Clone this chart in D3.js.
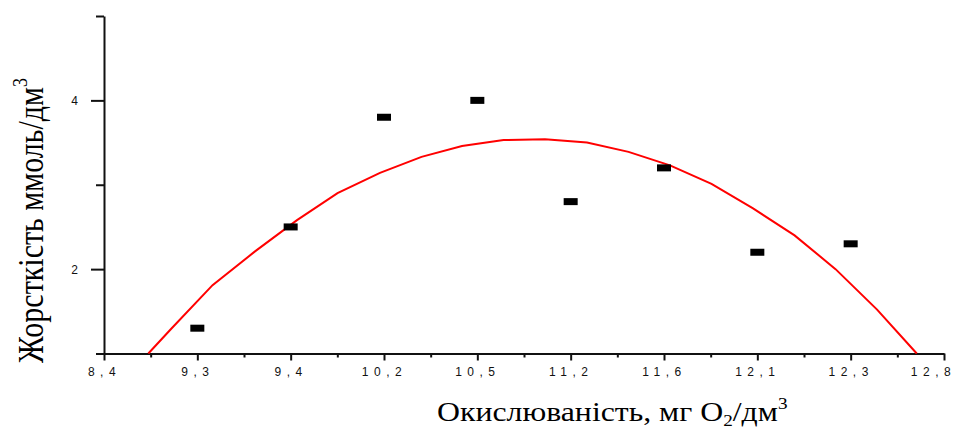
<!DOCTYPE html>
<html>
<head>
<meta charset="utf-8">
<script src="https://cdn.jsdelivr.net/npm/d3@7"></script>
<style>
  body { margin: 0; background: #fff; }
  svg { display: block; }
</style>
</head>
<body>
<svg id="chart" width="964" height="429"></svg>
<script>
// Oxidability categories along the x axis (mg O2/dm3)
const categories = ["8,4", "9,3", "9,4", "10,2", "10,5", "11,2", "11,6", "12,1", "12,3", "12,8"];
// Measured hardness (mmol/dm3) for each sampled oxidability
const pointCategory = ["9,3", "9,4", "10,2", "10,5", "11,2", "11,6", "12,1", "12,3"];
const hardness = [1.3, 2.5, 3.8, 4.0, 2.8, 3.2, 2.2, 2.3];
// Fitted trend line: position in category units and hardness value
const fitPos = [0.475, 0.718, 1.163, 1.618, 2.068, 2.502, 2.957, 3.402, 3.836, 4.281,
                4.725, 5.175, 5.620, 6.064, 6.509, 6.954, 7.399, 7.838, 8.283, 8.708];
const fitValue = [1.0, 1.29, 1.81, 2.21, 2.58, 2.90, 3.14, 3.33, 3.46, 3.53,
                  3.54, 3.50, 3.39, 3.23, 3.01, 2.72, 2.40, 2.00, 1.52, 1.0];
// y axis ticks
const yMajorTicks = [2, 4];
const yMinorTicks = [1, 3, 5];

const svg = d3.select("#chart");
const axisColor = "#111";
const tickFont = "'Liberation Sans', Arial, sans-serif";
const titleFont = "'Liberation Serif', 'Times New Roman', serif";

const x = d3.scaleLinear().domain([0, categories.length - 1]).range([104, 944]);
const y = d3.scaleLinear().domain([1, 5]).range([353.5, 16]);
const lastCat = categories.length - 1;

// ---- x axis ----
const gx = svg.append("g").attr("transform", `translate(0,${y(1)})`);
gx.call(d3.axisBottom(x)
  .tickValues(d3.range(categories.length))
  .tickFormat(i => categories[i])
  .tickSize(7)
  .tickSizeOuter(0));
gx.selectAll(".tick text")
  .attr("y", 22.5).attr("dy", 0)
  .attr("dx", d => d === lastCat ? -11 : 0)
  .attr("fill", "#111")
  .style("font-family", tickFont)
  .style("font-size", "12px")
  .style("letter-spacing", "5.5px");
// minor ticks between categories
gx.append("g").call(d3.axisBottom(x)
  .tickValues(d3.range(0.5, lastCat, 1))
  .tickFormat("")
  .tickSize(4)
  .tickSizeOuter(0))
  .call(g => g.select(".domain").remove())
  .call(g => g.selectAll("text").remove());
gx.selectAll(".domain").attr("stroke", axisColor).attr("stroke-width", 2);
gx.selectAll(".tick line").attr("stroke", axisColor).attr("stroke-width", 2);

// ---- y axis ----
const gy = svg.append("g").attr("transform", `translate(${x(0)},0)`);
gy.call(d3.axisLeft(y)
  .tickValues(yMajorTicks)
  .tickFormat(d3.format("d"))
  .tickSize(13)
  .tickSizeOuter(0));
gy.selectAll(".tick text")
  .attr("x", -26).attr("dy", "0.36em")
  .attr("fill", "#111")
  .style("font-family", tickFont)
  .style("font-size", "12px");
gy.append("g").call(d3.axisLeft(y)
  .tickValues(yMinorTicks)
  .tickFormat("")
  .tickSize(8)
  .tickSizeOuter(0))
  .call(g => g.select(".domain").remove())
  .call(g => g.selectAll("text").remove());
gy.selectAll(".domain").attr("stroke", axisColor).attr("stroke-width", 2);
gy.selectAll(".tick line").attr("stroke", axisColor).attr("stroke-width", 2);

// ---- fitted curve ----
const fitData = fitPos.map((p, i) => [p, fitValue[i]]);
svg.append("path")
  .datum(fitData)
  .attr("fill", "none")
  .attr("stroke", "#ff0000")
  .attr("stroke-width", 2)
  .attr("d", d3.line().x(d => x(d[0])).y(d => y(d[1])));

// ---- measured points ----
svg.append("g").selectAll("rect")
  .data(hardness)
  .join("rect")
  .attr("x", (d, i) => x(categories.indexOf(pointCategory[i])) - 7)
  .attr("y", d => y(d) - 3.5)
  .attr("width", 14)
  .attr("height", 7)
  .attr("fill", "#000");

// ---- axis titles (serif, slightly widened) ----
const xTitle = svg.append("text")
  .attr("transform", "translate(437,421) scale(1.2,1)")
  .attr("fill", "#000")
  .style("font-family", titleFont)
  .style("font-size", "26.5px");
xTitle.append("tspan").text("Окислюваність, мг O");
xTitle.append("tspan").attr("dy", 5).style("font-size", "16px").text("2");
xTitle.append("tspan").attr("dy", -5).text("/дм");
xTitle.append("tspan").attr("dy", -12).style("font-size", "16px").text("3");

const yTitle = svg.append("text")
  .attr("transform", "translate(43,363) scale(1.2,1) rotate(-90)")
  .attr("fill", "#000")
  .style("font-family", titleFont)
  .style("font-size", "30px");
yTitle.append("tspan").text("Жорсткість ммоль/дм");
yTitle.append("tspan").attr("dy", -13).style("font-size", "18px").text("3");
</script>
</body>
</html>
